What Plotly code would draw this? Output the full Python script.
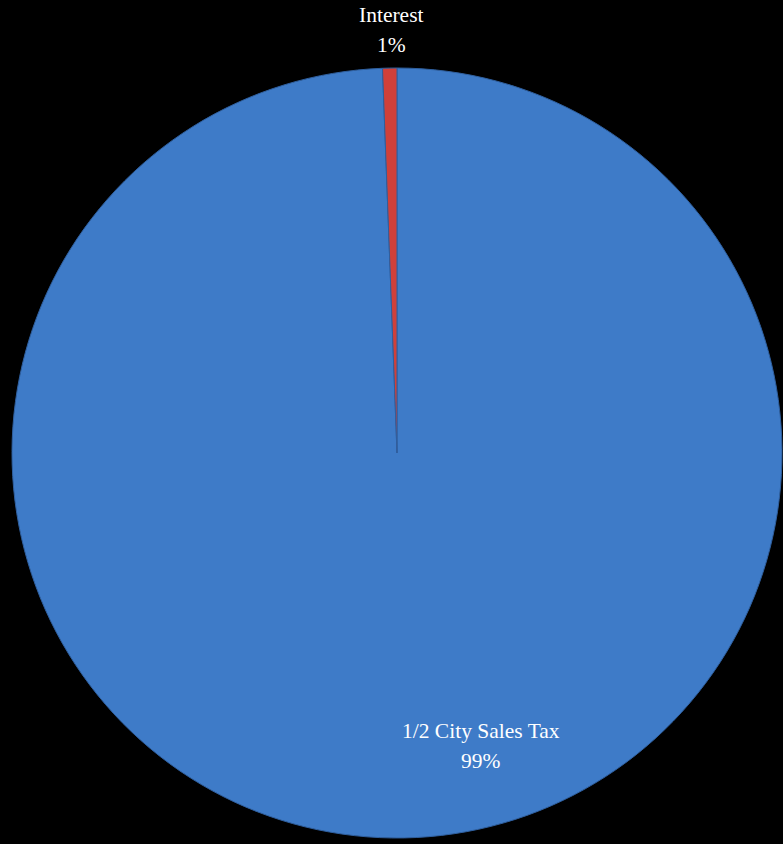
import plotly.graph_objects as go

labels = ["1/2 City Sales Tax", "Interest"]
values = [99.4, 0.6]
colors = ["#3E7BC8", "#D0403A"]

total = sum(values)
pcts = [f"{round(v / total * 100):.0f}%" for v in values]

fig = go.Figure(go.Pie(
    labels=labels,
    values=values,
    sort=False,
    direction="clockwise",
    rotation=0,
    marker=dict(colors=colors, line=dict(color="#2F5F9E", width=1)),
    textinfo="none",
    hoverinfo="label+percent",
    showlegend=False,
    domain=dict(x=[12 / 783, 782 / 783], y=[1 - 838 / 844, 1 - 68 / 844]),
))

font = dict(family="Liberation Serif, Times New Roman, serif", size=21.5, color="white")
pos = {
    "1/2 City Sales Tax": ((481 / 783, 1 - 731 / 844), (481 / 783, 1 - 761 / 844)),
    "Interest": ((391 / 783, 1 - 15 / 844), (391 / 783, 1 - 45 / 844)),
}
annotations = []
for lab, p in zip(labels, pcts):
    (x1, y1), (x2, y2) = pos[lab]
    annotations.append(dict(x=x1, y=y1, xref="paper", yref="paper", text=lab,
                            showarrow=False, font=font, xanchor="center", yanchor="middle"))
    annotations.append(dict(x=x2, y=y2, xref="paper", yref="paper", text=p,
                            showarrow=False, font=font, xanchor="center", yanchor="middle"))

fig.update_layout(
    width=783, height=844,
    margin=dict(l=0, r=0, t=0, b=0),
    paper_bgcolor="black", plot_bgcolor="black",
    annotations=annotations,
)

fig.write_html(
    "out.html",
    config={"displayModeBar": False},
    post_script="document.body.style.margin='0';document.body.style.background='black';"
                "document.body.style.overflow='hidden';",
)
